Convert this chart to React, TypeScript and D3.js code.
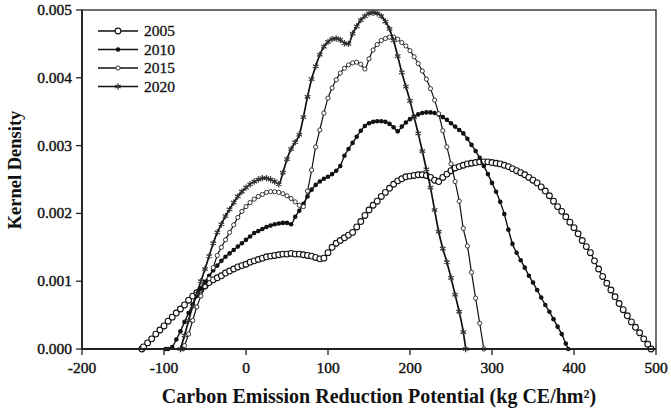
import * as d3 from "d3";

// density values are given in units of 0.001
const s2005: [number, number][] = [
  [-127, 0], [-125, 0.03], [-120, 0.09], [-115, 0.15], [-110, 0.22], [-105, 0.28], [-100, 0.34],
  [-95, 0.41], [-90, 0.47], [-85, 0.53], [-80, 0.59], [-75, 0.65], [-70, 0.72], [-65, 0.78],
  [-60, 0.83], [-55, 0.88], [-50, 0.93], [-45, 0.98], [-40, 1.02], [-35, 1.05], [-30, 1.08],
  [-25, 1.12], [-20, 1.15], [-15, 1.18], [-10, 1.21], [-5, 1.23], [0, 1.25], [5, 1.28], [10, 1.3],
  [15, 1.32], [20, 1.34], [25, 1.36], [30, 1.37], [35, 1.38], [40, 1.39], [45, 1.4], [50, 1.4],
  [55, 1.41], [60, 1.4], [65, 1.4], [70, 1.39], [75, 1.38], [80, 1.37], [85, 1.35], [90, 1.33],
  [95, 1.34], [100, 1.42], [105, 1.5], [110, 1.56], [115, 1.6], [120, 1.64], [125, 1.68],
  [130, 1.72], [135, 1.8], [140, 1.88], [145, 1.97], [150, 2.05], [155, 2.12], [160, 2.18],
  [165, 2.25], [170, 2.31], [175, 2.37], [180, 2.43], [185, 2.48], [190, 2.51], [195, 2.54],
  [200, 2.55], [205, 2.56], [210, 2.57], [215, 2.57], [220, 2.56], [225, 2.53], [230, 2.49],
  [235, 2.47], [240, 2.53], [245, 2.58], [250, 2.63], [255, 2.67], [260, 2.69], [265, 2.71],
  [270, 2.73], [275, 2.74], [280, 2.75], [285, 2.76], [290, 2.76], [295, 2.76], [300, 2.75],
  [305, 2.74], [310, 2.73], [315, 2.71], [320, 2.69], [325, 2.66], [330, 2.63], [335, 2.6],
  [340, 2.57], [345, 2.53], [350, 2.49], [355, 2.45], [360, 2.39], [365, 2.33], [370, 2.26],
  [375, 2.18], [380, 2.1], [385, 2.03], [390, 1.95], [395, 1.87], [400, 1.79], [405, 1.7],
  [410, 1.6], [415, 1.51], [420, 1.42], [425, 1.3], [430, 1.18], [435, 1.07], [440, 0.97],
  [445, 0.87], [450, 0.77], [455, 0.67], [460, 0.58], [465, 0.49], [470, 0.4], [475, 0.32],
  [480, 0.24], [485, 0.15], [490, 0.07], [494, 0],
];

const s2010: [number, number][] = [
  [-98, 0], [-95, 0], [-90, 0.03], [-85, 0.14], [-80, 0.26], [-75, 0.4], [-70, 0.53], [-65, 0.66],
  [-60, 0.78], [-55, 0.89], [-50, 0.99], [-45, 1.08], [-40, 1.16], [-35, 1.23], [-30, 1.3],
  [-25, 1.36], [-20, 1.41], [-15, 1.46], [-10, 1.51], [-5, 1.56], [0, 1.61], [5, 1.66], [10, 1.71],
  [15, 1.74], [20, 1.77], [25, 1.8], [30, 1.82], [35, 1.84], [40, 1.85], [45, 1.86], [50, 1.86],
  [55, 1.84], [60, 1.95], [65, 2.04], [70, 2.14], [75, 2.25], [80, 2.35], [85, 2.42], [90, 2.47],
  [95, 2.51], [100, 2.54], [105, 2.58], [110, 2.63], [115, 2.7], [120, 2.85], [125, 2.95],
  [130, 3.04], [135, 3.13], [140, 3.22], [145, 3.29], [150, 3.33], [155, 3.35], [160, 3.36],
  [165, 3.36], [170, 3.35], [175, 3.32], [180, 3.27], [185, 3.21], [190, 3.28], [195, 3.34],
  [200, 3.39], [205, 3.43], [210, 3.46], [215, 3.48], [220, 3.49], [225, 3.49], [230, 3.48],
  [235, 3.46], [240, 3.42], [245, 3.38], [250, 3.33], [255, 3.28], [260, 3.23], [265, 3.18],
  [270, 3.1], [275, 3.01], [280, 2.92], [285, 2.82], [290, 2.7], [295, 2.58], [300, 2.45],
  [305, 2.32], [310, 2.17], [315, 1.99], [320, 1.76], [325, 1.55], [330, 1.42], [335, 1.31],
  [340, 1.2], [345, 1.08], [350, 0.98], [355, 0.87], [360, 0.76], [365, 0.65], [370, 0.55],
  [375, 0.44], [380, 0.33], [385, 0.22], [390, 0.08], [393, 0],
];

const s2015: [number, number][] = [
  [-77, 0], [-75, 0.05], [-70, 0.22], [-65, 0.42], [-60, 0.62], [-55, 0.78], [-50, 0.92],
  [-45, 1.04], [-40, 1.2], [-35, 1.38], [-30, 1.5], [-25, 1.61], [-20, 1.72], [-15, 1.83],
  [-10, 1.94], [-5, 2.03], [0, 2.1], [5, 2.16], [10, 2.21], [15, 2.25], [20, 2.28], [25, 2.31],
  [30, 2.32], [35, 2.32], [40, 2.31], [45, 2.29], [50, 2.26], [55, 2.22], [60, 2.17], [65, 2.12],
  [70, 2.1], [75, 2.33], [80, 2.64], [85, 2.98], [90, 3.23], [95, 3.48], [100, 3.7], [105, 3.85],
  [110, 3.97], [115, 4.07], [120, 4.14], [125, 4.19], [130, 4.22], [135, 4.23], [140, 4.2],
  [145, 4.13], [150, 4.28], [155, 4.41], [160, 4.49], [165, 4.55], [170, 4.58], [175, 4.6],
  [180, 4.6], [185, 4.57], [190, 4.52], [195, 4.47], [200, 4.4], [205, 4.31], [210, 4.21],
  [215, 4.1], [220, 3.98], [225, 3.84], [230, 3.67], [235, 3.47], [240, 3.22], [245, 2.98],
  [250, 2.73], [255, 2.47], [260, 2.18], [265, 1.78], [270, 1.52], [275, 1.13], [280, 0.75],
  [285, 0.38], [290, 0],
];

const s2020: [number, number][] = [
  [-80, 0], [-75, 0.2], [-70, 0.42], [-65, 0.63], [-60, 0.82], [-55, 1.0], [-50, 1.18], [-45, 1.37],
  [-40, 1.56], [-35, 1.72], [-30, 1.84], [-25, 1.96], [-20, 2.06], [-15, 2.16], [-10, 2.25],
  [-5, 2.32], [0, 2.38], [5, 2.43], [10, 2.47], [15, 2.5], [20, 2.52], [25, 2.52], [30, 2.5],
  [35, 2.47], [40, 2.43], [45, 2.6], [50, 2.8], [55, 2.95], [60, 3.05], [65, 3.16], [70, 3.42],
  [75, 3.72], [80, 3.98], [85, 4.17], [90, 4.34], [95, 4.46], [100, 4.53], [105, 4.57],
  [110, 4.58], [115, 4.56], [120, 4.51], [125, 4.5], [130, 4.65], [135, 4.76], [140, 4.85],
  [145, 4.91], [150, 4.95], [155, 4.96], [160, 4.95], [165, 4.91], [170, 4.83], [175, 4.72],
  [180, 4.55], [185, 4.32], [190, 4.08], [195, 3.87], [200, 3.66], [205, 3.42], [210, 3.18],
  [215, 2.92], [220, 2.65], [225, 2.38], [230, 2.05], [235, 1.73], [240, 1.48], [245, 1.28],
  [250, 1.05], [255, 0.8], [260, 0.55], [265, 0.25], [268, 0],
];

const seriesNames = ["2005", "2010", "2015", "2020"];
const xTicks = [-200, -100, 0, 100, 200, 300, 400, 500];
const yTicks = [0, 0.001, 0.002, 0.003, 0.004, 0.005];

const W = 671;
const H = 411;
const margin = { top: 10, right: 15, bottom: 62, left: 82 };
const FONT = "'Liberation Serif', 'Times New Roman', Times, serif";

type Marker = "open" | "dot" | "small" | "star";

function MarkerGlyph({ kind, x, y }: { kind: Marker; x: number; y: number }) {
  if (kind === "open")
    return <circle cx={x} cy={y} r={2.9} fill="#fff" stroke="#111" strokeWidth={1.1} />;
  if (kind === "dot") return <circle cx={x} cy={y} r={2.3} fill="#111" />;
  if (kind === "small")
    return <circle cx={x} cy={y} r={2.1} fill="#fff" stroke="#222" strokeWidth={0.9} />;
  const p = d3.symbol(d3.symbolAsterisk, 28)() || "";
  return <path d={p} transform={`translate(${x},${y})`} fill="none" stroke="#333" strokeWidth={1.2} />;
}

export default function App() {
  const x = d3
    .scaleLinear()
    .domain([-200, 500])
    .range([margin.left, W - margin.right]);
  const y = d3
    .scaleLinear()
    .domain([0, 0.005])
    .range([H - margin.bottom, margin.top]);

  const line = d3
    .line<[number, number]>()
    .x((d) => x(d[0]))
    .y((d) => y(d[1] / 1000))
    .curve(d3.curveMonotoneX);

  const series: { name: string; data: [number, number][]; marker: Marker; lw: number }[] = [
    { name: seriesNames[0], data: s2005, marker: "open", lw: 1.2 },
    { name: seriesNames[1], data: s2010, marker: "dot", lw: 1.4 },
    { name: seriesNames[2], data: s2015, marker: "small", lw: 1.2 },
    { name: seriesNames[3], data: s2020, marker: "star", lw: 1.7 },
  ];

  const x0 = margin.left;
  const x1 = W - margin.right;
  const y0 = H - margin.bottom;
  const y1 = margin.top;
  const txt = { fontFamily: FONT };

  return (
    <svg
      width={W}
      height={H}
      style={{ position: "absolute", left: 0, top: 0, background: "#fff", fontFamily: FONT }}
    >
      <rect width={W} height={H} fill="#fff" />

      {series.map((s) => (
        <g key={s.name}>
          <path d={line(s.data) || ""} fill="none" stroke="#111" strokeWidth={s.lw} />
          {s.data.map((d, i) => (
            <MarkerGlyph key={i} kind={s.marker} x={x(d[0])} y={y(d[1] / 1000)} />
          ))}
        </g>
      ))}

      {/* frame */}
      <rect x={x0} y={y1} width={x1 - x0} height={y0 - y1} fill="none" stroke="#222" strokeWidth={1.3} />
      <line x1={x0} x2={x1} y1={y0} y2={y0} stroke="#222" strokeWidth={2} />
      <line x1={x0} x2={x0} y1={y1} y2={y0} stroke="#222" strokeWidth={1.8} />

      {yTicks.map((t) => (
        <g key={t}>
          <line x1={x0 - 6} x2={x0} y1={y(t)} y2={y(t)} stroke="#222" strokeWidth={1.3} />
          <text
            x={x0 - 10}
            y={y(t) + 5}
            textAnchor="end"
            fontSize={15.5}
            fill="#111"
            stroke="#111"
            strokeWidth={0.4}
            style={txt}
          >
            {t.toFixed(3)}
          </text>
        </g>
      ))}

      {xTicks.map((t) => (
        <g key={t}>
          <line x1={x(t)} x2={x(t)} y1={y0} y2={y0 + 6} stroke="#222" strokeWidth={1.3} />
          <text
            x={x(t)}
            y={y0 + 24}
            textAnchor="middle"
            fontSize={15.5}
            fill="#111"
            stroke="#111"
            strokeWidth={0.4}
            style={txt}
          >
            {t}
          </text>
        </g>
      ))}

      <text
        x={379}
        y={H - 8}
        textAnchor="middle"
        fontSize={20}
        fontWeight="bold"
        fill="#111"
        style={txt}
      >
        Carbon Emission Reduction Potential (kg CE/hm²)
      </text>
      <text
        transform={`translate(${21},${170}) rotate(-90)`}
        textAnchor="middle"
        fontSize={18.5}
        fontWeight="bold"
        fill="#111"
        style={txt}
      >
        Kernel Density
      </text>

      {/* legend */}
      {series.map((s, i) => {
        const ly = 31 + i * 18.5;
        return (
          <g key={s.name}>
            <line x1={98} x2={138} y1={ly} y2={ly} stroke="#111" strokeWidth={1.4} />
            <MarkerGlyph kind={s.marker} x={118} y={ly} />
            <text x={144} y={ly + 5} fontSize={15.5} fill="#111" stroke="#111" strokeWidth={0.3} style={txt}>
              {s.name}
            </text>
          </g>
        );
      })}
    </svg>
  );
}
